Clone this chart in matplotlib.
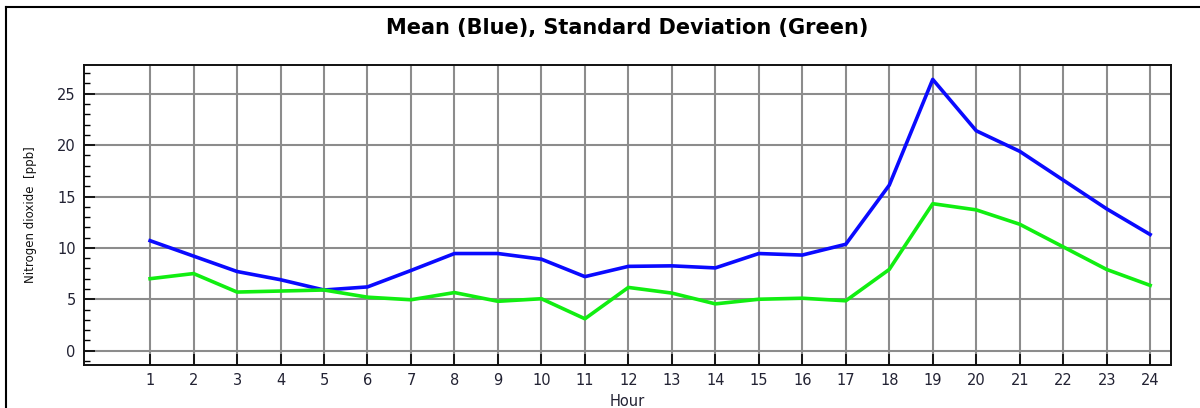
import numpy as np
import matplotlib
matplotlib.use("Agg")
import matplotlib.pyplot as plt
from matplotlib.lines import Line2D
from matplotlib.ticker import MultipleLocator

hours = list(range(1, 25))
mean_no2 = [10.7, 9.2, 7.7, 6.9, 5.9, 6.2, 7.8, 9.45, 9.45, 8.9, 7.2, 8.2,
            8.25, 8.05, 9.45, 9.3, 10.35, 16.1, 26.4, 21.4, 19.4, 16.6, 13.8, 11.3]
std_no2 = [7.0, 7.5, 5.7, 5.8, 5.9, 5.2, 4.95, 5.65, 4.8, 5.05, 3.1, 6.15,
           5.6, 4.55, 5.0, 5.1, 4.85, 7.9, 14.3, 13.7, 12.3, 10.1, 7.9, 6.35]

fig = plt.figure(figsize=(12, 4.08), dpi=100)
ax = fig.add_axes([84/1200, 1-365/408, (1171-84)/1200, (365-65)/408])

# outer frame of the original screenshot
fig.add_artist(Line2D([6/1200, 6/1200], [0, 1-7/408], color="black", lw=1.5))
fig.add_artist(Line2D([6/1200, 1], [1-7/408, 1-7/408], color="black", lw=1.5))

ax.plot(hours, mean_no2, color="#0a0aff", lw=2.6, zorder=3)
ax.plot(hours, std_no2, color="#11ee11", lw=2.6, zorder=3)

ax.set_xlim(-0.52, 24.48)
ax.set_ylim(-1.4, 27.8)
ax.set_xticks(hours)
ax.yaxis.set_major_locator(MultipleLocator(5))
ax.yaxis.set_minor_locator(MultipleLocator(1))
ax.grid(True, which="major", color="#8c8c8c", lw=1.5)
ax.tick_params(axis="both", which="major", direction="in", length=8, width=1.2,
               labelsize=10.5, labelcolor="#222233", pad=6)
ax.tick_params(axis="y", which="minor", direction="in", length=4, width=1.0)
ax.tick_params(axis="x", which="minor", bottom=False)
for s in ax.spines.values():
    s.set_linewidth(1.4)
    s.set_color("#111111")

ax.set_title("Mean (Blue), Standard Deviation (Green)", fontsize=15,
             fontweight="bold", pad=22)
ax.set_xlabel("Hour", fontsize=10.5, color="#222233", labelpad=4)
ax.set_ylabel("Nitrogen dioxide  [ppb]", fontsize=8.5, color="#111111", labelpad=14)

fig.savefig("out.png", dpi=100)
